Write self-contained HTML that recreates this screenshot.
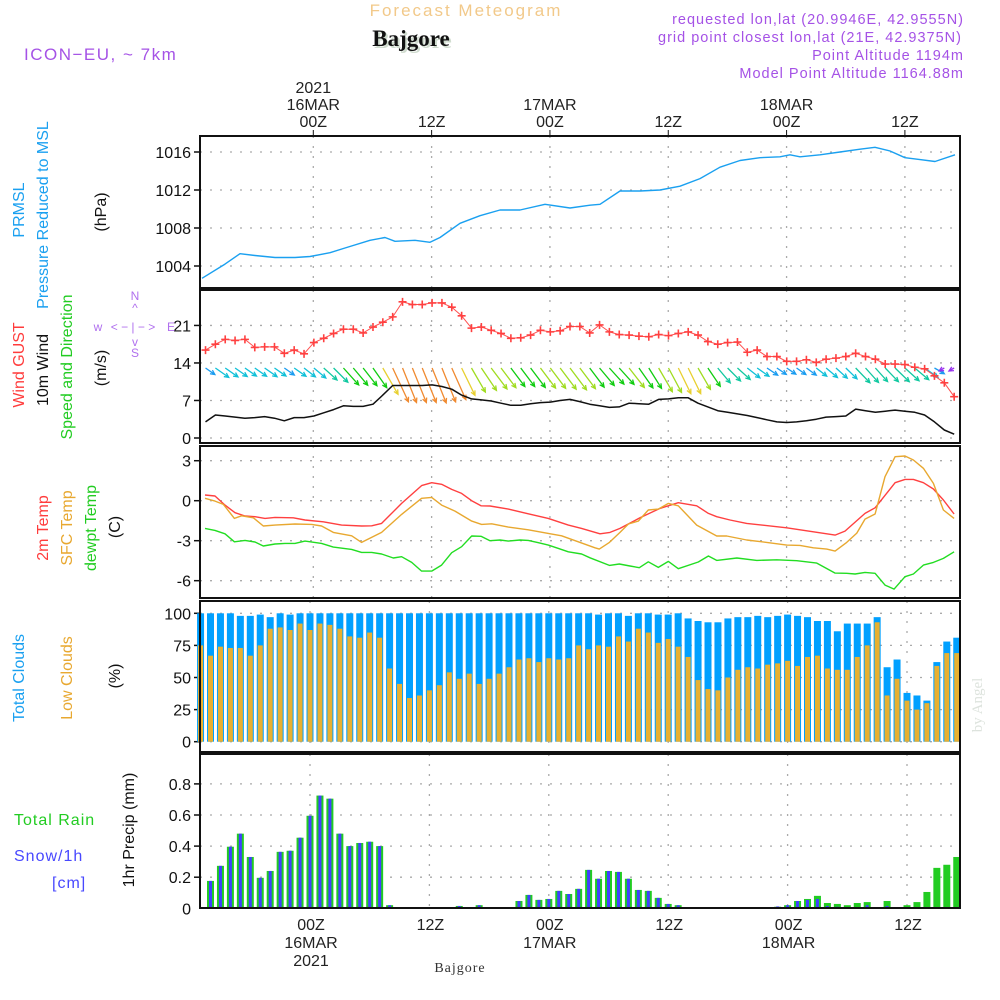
<!DOCTYPE html>
<html><head><meta charset="utf-8"><title>Meteogram Bajgore</title>
<style>
html,body{margin:0;padding:0;background:#fff;}
svg{display:block;font-family:"Liberation Sans",sans-serif;}
</style></head>
<body>
<svg id="chart" width="1000" height="1000" viewBox="0 0 1000 1000" xmlns="http://www.w3.org/2000/svg">
<rect x="0" y="0" width="1000" height="1000" fill="#fff"/>
<text x="466" y="16" text-anchor="middle" font-size="17" fill="#f2c98a" letter-spacing="2">Forecast Meteogram</text>
<text x="413" y="48" text-anchor="middle" font-size="23" font-weight="bold" font-family="Liberation Serif, serif" fill="#d0dccf">Bajgore</text>
<text x="411" y="46" text-anchor="middle" font-size="23" font-weight="bold" font-family="Liberation Serif, serif" fill="#111">Bajgore</text>
<g fill="#a552e6" font-size="14.5" text-anchor="end" letter-spacing="1">
<text x="964" y="24">requested lon,lat (20.9946E, 42.9555N)</text>
<text x="962" y="42">grid point closest lon,lat (21E, 42.9375N)</text>
<text x="964" y="60">Point Altitude 1194m</text>
<text x="964" y="78">Model Point Altitude 1164.88m</text>
</g>
<text x="24" y="60" font-size="17" fill="#a552e6" letter-spacing="1.5">ICON−EU, ~ 7km</text>

<g id="axes"></g>
<g id="marks"></g>

<g font-size="16">
<text transform="translate(24,210) rotate(-90)" text-anchor="middle" fill="#1aa0f0">PRMSL</text>
<text transform="translate(48,215) rotate(-90)" text-anchor="middle" fill="#1aa0f0">Pressure Reduced to MSL</text>
<text transform="translate(106,212) rotate(-90)" text-anchor="middle" fill="#111">(hPa)</text>
<text transform="translate(24,365) rotate(-90)" text-anchor="middle" fill="#ff3c3c">Wind GUST</text>
<text transform="translate(48,370) rotate(-90)" text-anchor="middle" fill="#111">10m Wind</text>
<text transform="translate(72,367) rotate(-90)" text-anchor="middle" fill="#22cc22">Speed and Direction</text>
<text transform="translate(106,368) rotate(-90)" text-anchor="middle" fill="#111">(m/s)</text>
<text transform="translate(48,528) rotate(-90)" text-anchor="middle" fill="#ff3c3c">2m Temp</text>
<text transform="translate(72,528) rotate(-90)" text-anchor="middle" fill="#e8a830">SFC Temp</text>
<text transform="translate(96,528) rotate(-90)" text-anchor="middle" fill="#22cc22">dewpt Temp</text>
<text transform="translate(120,527) rotate(-90)" text-anchor="middle" fill="#111">(C)</text>
<text transform="translate(24,678) rotate(-90)" text-anchor="middle" fill="#1aa0f0">Total Clouds</text>
<text transform="translate(72,678) rotate(-90)" text-anchor="middle" fill="#e8a830">Low Clouds</text>
<text transform="translate(120,676) rotate(-90)" text-anchor="middle" fill="#111">(%)</text>
<text transform="translate(134,830) rotate(-90)" text-anchor="middle" fill="#111">1hr Precip (mm)</text>
<text x="14" y="825" fill="#22cc22" letter-spacing="1">Total   Rain</text>
<text x="14" y="861" fill="#4848ff" letter-spacing="1">Snow/1h</text>
<text x="52" y="888" fill="#4848ff" letter-spacing="1">[cm]</text>
</g>
<g fill="#b070ee" font-size="12" text-anchor="middle">
<text x="135" y="300">N</text><text x="135" y="312">^</text>
<text x="98" y="331">w</text><text x="133" y="331">&lt; − | − &gt;</text><text x="171" y="331">E</text>
<text x="135" y="346">v</text><text x="135" y="357">S</text>
</g>
<text transform="translate(982,705) rotate(-90)" text-anchor="middle" font-size="15" font-family="Liberation Serif, serif" fill="#dde3dd">by Angel</text>
<text x="460" y="972" text-anchor="middle" font-size="14" font-family="Liberation Serif, serif" fill="#333" letter-spacing="1">Bajgore</text>
</svg>
<script>
const pressHours=[-10.85,-8.54,-7.04,-5.53,-3.52,-1.51,0,2.01,3.52,6.03,7.54,8.54,10.55,12.06,13.07,15.08,17.09,19.1,21.11,23.62,26.13,28.14,29.15,31.16,33.17,35.18,37.19,39.2,41.21,43.22,45.23,47.24,48.24,49.25,51.26,53.27,55.28,56.78,58.29,59.8,61.31,62.81,64.82];
const pressVals=[1002.7,1004.2,1005.3,1005.1,1004.9,1004.9,1005.0,1005.4,1005.9,1006.7,1007.0,1006.6,1006.7,1006.5,1007.0,1008.5,1009.3,1009.9,1009.9,1010.5,1010.1,1010.4,1010.5,1011.9,1011.9,1012.0,1012.4,1013.2,1014.4,1015.1,1015.4,1015.5,1015.7,1015.5,1015.7,1016.0,1016.3,1016.5,1016.1,1015.4,1015.2,1015.0,1015.7];
const windStartHour=-10.5;
const gustVals=[16.4,17.5,18.4,18.2,18.4,16.9,17.0,17.0,15.8,16.4,15.7,17.8,18.6,19.5,20.3,20.3,19.6,20.7,21.6,22.6,25.4,24.9,24.9,25.2,25.2,24.4,22.8,20.5,20.7,20.1,19.5,18.6,18.7,19.2,20.1,19.8,20.0,20.8,20.8,19.6,
21.1,19.8,19.3,19.2,19.0,18.9,19.3,19.1,19.5,19.8,19.2,18.0,17.5,17.8,17.9,16.0,16.4,15.2,15.2,14.3,14.3,14.6,14.1,14.7,14.9,15.2,15.8,15.2,14.7,13.8,13.8,13.7,13.2,12.9,11.6,10.3,7.7];
const windVals=[3.0,4.3,4.1,3.9,3.7,3.8,4.0,3.7,3.2,3.8,3.8,4.1,4.7,5.3,6.0,5.9,5.9,6.3,8.0,9.8,9.8,9.8,9.8,9.9,9.6,9.1,8.0,7.3,7.1,6.9,6.5,6.1,6.1,6.4,6.6,6.7,7.0,7.2,6.8,6.3,
6.0,5.7,5.8,6.5,6.4,6.3,7.2,7.3,7.5,7.5,6.5,5.8,5.1,4.8,4.5,4.2,3.8,3.4,3.0,2.9,3.0,3.2,3.5,3.9,4.0,4.1,5.4,5.1,4.8,5.0,5.2,5.0,4.8,4.3,3.0,1.5,0.7];
const windDirFrom=[305,305,305,305,305,305,305,305,305,305,308,310,312,315,318,320,322,325,330,335,338,338,338,338,338,336,334,330,326,323,323,323,323,323,323,323,323,323,323,323,
320,318,318,322,325,328,330,332,334,334,330,326,320,315,312,308,305,304,304,304,305,306,308,310,312,314,316,318,318,316,314,312,310,305,300,60,60];
const temp2mHours=[-10.55,-9.55,-8.54,-7.54,-6.53,-5.53,-4.52,-3.52,-1.68,-0.5,1.34,3.18,5.19,6.2,7.2,9.21,11.22,12.23,13.23,14.24,15.24,16.25,17.19,18.09,19.93,21.94,23.95,25.96,27.3,29.15,30.15,31.16,33.17,35.18,37.02,38.86,40.04,40.87,42.21,43.89,47.91,50.59,52.77,53.77,55.78,56.79,58.8,59.8,60.64,61.65,62.65,63.66,64.73];
const temp2mVals=[0.43,0.35,-0.33,-0.9,-1.15,-1.2,-1.33,-1.25,-1.28,-1.45,-1.58,-1.83,-1.9,-1.88,-1.7,-0.2,1.13,1.35,1.23,0.85,0.55,0,-0.38,-0.4,-0.63,-0.98,-1.33,-1.83,-2.08,-2.48,-2.38,-2.08,-1.28,-0.58,-0.15,-0.38,-0.95,-1.2,-1.45,-1.7,-2.03,-2.33,-2.58,-2.28,-0.95,-0.53,1.35,1.6,1.6,1.35,0.88,0.05,-1.0];
const sfcHours=[-10.55,-9.55,-8.7,-7.6,-6.87,-5.69,-4.69,-3.52,-1.51,0.17,1.17,2.34,4.19,5.19,7.2,9.21,11.22,12.23,13.23,14.57,16.25,17.25,18.26,19.93,21.94,23.95,25.29,28.64,29.08,30.09,31.16,32,33,34,35,36.02,37.02,38.86,40.87,41.88,43.89,45.9,47.91,49.25,50.59,51.93,52.77,53.94,54.95,55.78,56.79,57.79,58.8,59.8,60.64,61.65,62.65,63.66,64.73];
const sfcVals=[0.18,-0.03,-0.28,-1.33,-1.13,-1.28,-1.9,-1.83,-1.75,-1.78,-1.9,-2.38,-2.63,-3.13,-2.38,-1.03,0.18,0.25,-0.33,-0.78,-1.53,-1.78,-1.73,-1.98,-2.18,-2.45,-2.63,-3.53,-3.63,-3.13,-2.38,-1.75,-1.53,-0.7,-0.63,-0.2,-0.38,-1.83,-2.65,-2.65,-2.95,-3.13,-3.33,-3.35,-3.53,-3.63,-3.78,-3.13,-2.43,-1.38,-1.0,1.8,3.3,3.35,3.05,2.43,1.3,-0.7,-1.33];
const dewHours=[-10.55,-9.55,-8.54,-7.6,-6.53,-5.53,-4.69,-3.52,-2.51,-1.51,-0.5,1.17,2.34,4.19,5.19,6.2,7.2,8.37,9.21,10.22,11.22,12.23,13.23,14.24,15.24,16.25,17.19,18.09,19.1,19.93,21.1,21.94,22.95,23.95,24.96,25.96,27.3,28.14,30.09,31.09,32.16,33.1,34,35,36.02,37.02,39.03,40.04,40.87,42.9,44.9,46.9,48.92,50.93,52.77,53.94,54.78,55.78,56.79,57.79,58.7,59.8,60.64,61.65,62.65,63.66,64.73];
const dewVals=[-2.08,-2.23,-2.48,-3.08,-2.98,-3.1,-3.4,-3.25,-3.2,-3.2,-3.03,-3.2,-3.48,-3.65,-3.88,-3.88,-4.0,-4.3,-4.2,-4.63,-5.28,-5.28,-4.83,-3.9,-3.45,-2.65,-2.67,-3.0,-2.95,-3.03,-2.95,-2.98,-3.15,-3.33,-3.58,-3.83,-4.0,-4.28,-4.85,-4.75,-4.9,-5.03,-4.58,-5.0,-4.55,-5.1,-4.6,-4.15,-4.48,-4.3,-4.48,-4.43,-4.5,-4.68,-5.43,-5.45,-5.5,-5.38,-5.45,-6.33,-6.63,-5.7,-5.5,-4.83,-4.63,-4.33,-3.83];
const barStartHour=-11;
const totalClouds=[100,100,100,100,98,98,99,97,100,99,100,100,100,100,100,100,100,100,100,100,100,100,100,100,100,100,100,100,100,100,100,100,100,100,100,100,100,100,100,100,
99,100,100,98,100,100,99,99,100,96,94,93,93,96,97,97,98,97,98,99,98,97,94,94,86,92,92,92,97,58,64,38,36,32,62,78,81];
const lowClouds=[75,67,74,73,73,67,75,88,89,87,92,87,92,91,88,82,81,85,81,57,45,34,36,40,44,54,49,53,45,49,53,58,64,65,62,65,64,65,75,72,
75,74,82,78,88,85,77,80,74,66,48,41,40,50,56,58,57,60,61,63,59,66,67,57,56,56,66,75,93,36,49,32,25,30,59,69,69];
const precipTotal=[0,0.176,0.273,0.396,0.48,0.33,0.196,0.24,0.363,0.37,0.454,0.595,0.725,0.705,0.48,0.40,0.42,0.428,0.40,0.02,0,0,0,0,0,0,0.015,0.003,0.02,0,0,0.003,0.047,0.086,0.054,0.06,0.112,0.092,0.125,0.247,
0.19,0.24,0.234,0.19,0.118,0.112,0.067,0.028,0.02,0.008,0,0,0,0.002,0,0,0.008,0.008,0.01,0.02,0.047,0.06,0.08,0.034,0.028,0.02,0.034,0.04,0.008,0.047,0.008,0.02,0.04,0.105,0.26,0.28,0.33];
const precipSnow=[0,0.176,0.273,0.396,0.48,0.33,0.196,0.24,0.363,0.37,0.454,0.595,0.725,0.705,0.48,0.40,0.42,0.428,0.40,0.02,0,0,0,0,0,0,0.015,0.003,0.02,0,0,0.003,0.047,0.086,0.054,0.06,0.112,0.092,0.125,0.247,
0.19,0.24,0.234,0.19,0.118,0.112,0.067,0.028,0.02,0.008,0,0,0,0.002,0,0,0.003,0.003,0.012,0.02,0.047,0.054,0.06,0.015,0.01,0.005,0.008,0.02,0.008,0.015,0,0,0,0,0,0,0];
const pressTicks=[1004,1008,1012,1016];
const windTicks=[0,7,14,21];
const tempTicks=[-6,-3,0,3];
const cloudTicks=[0,25,50,75,100];
const precipTicks=[0.2,0.4,0.6,0.8];
const gridHours=[0,12,24,36,48,60];
const topLabels=[["2021","16MAR","00Z"],["","","12Z"],["","17MAR","00Z"],["","","12Z"],["","18MAR","00Z"],["","","12Z"]];
const bottomLabels=[["00Z","16MAR","2021"],["12Z","",""],["00Z","17MAR",""],["12Z","",""],["00Z","18MAR",""],["12Z","",""]];

const X0=200,X1=960;
const xData=h=>310+h*9.95;
const xGridTop=h=>313.3+h*9.86;
const xGridBot=h=>310+h*9.95;
const yP=v=>152+(1016-v)*9.5;
const yW=v=>438-v*5.36;
const yT=v=>500.7-v*13.33;
const yC=v=>741.7-v*1.284;
const yR=v=>908.3-v*155.5;
const panels=[{t:136,b:288,top:true},{t:290,b:443,top:true},{t:446,b:598,top:true},{t:601,b:752,top:false},{t:754,b:908,top:false}];

const NS="http://www.w3.org/2000/svg";
const axes=document.getElementById('axes'), marks=document.getElementById('marks');
function el(tag,attrs,parent){const e=document.createElementNS(NS,tag);for(const k in attrs)e.setAttribute(k,attrs[k]);parent.appendChild(e);return e;}

panels.forEach((p,i)=>{
  const gx=p.top?xGridTop:xGridBot;
  gridHours.forEach(h=>{
    const g=el('line',{x1:gx(h),x2:gx(h),y1:p.t,y2:p.b,stroke:'#aaa','stroke-width':1.3,'stroke-dasharray':'2,8'},axes);
    
    
  });
});
function yAxis(ticks,ys,fmt,p,name){
  ticks.forEach(v=>{
    const y=ys(v);
    const g=el('line',{x1:X0,x2:X1,y1:y,y2:y,stroke:'#aaa','stroke-width':1.3,'stroke-dasharray':'2,8'},axes);
    
    
    el('line',{x1:X0-6,x2:X0,y1:y,y2:y,stroke:'#111','stroke-width':1.5},axes);
    const t=el('text',{x:X0-9,y:y+6,'text-anchor':'end','font-size':16,fill:'#111'},axes);
    t.textContent=fmt(v);
    
    
  });
}
yAxis(pressTicks,yP,v=>v,panels[0],'pressure');
yAxis(windTicks,yW,v=>v,panels[1],'wind');
yAxis(tempTicks,yT,v=>v,panels[2],'temp');
yAxis(cloudTicks,yC,v=>v,panels[3],'cloud');
yAxis(precipTicks,yR,v=>v.toFixed(1),panels[4],'precip');
{const t=el('text',{x:X0-9,y:yR(0)+6,'text-anchor':'end','font-size':16,fill:'#111'},axes);t.textContent='0';

}

gridHours.forEach((h,i)=>{
  topLabels[i].forEach((s,j)=>{ if(!s)return;
    const t=el('text',{x:xGridTop(h),y:93+j*17,'text-anchor':'middle','font-size':16,fill:'#222'},axes);t.textContent=s;
    
    
  });
  el('line',{x1:xGridTop(h),x2:xGridTop(h),y1:130,y2:136,stroke:'#111'},axes);
  bottomLabels[i].forEach((s,j)=>{ if(!s)return;
    const t=el('text',{x:xGridBot(h)+1,y:930+j*18,'text-anchor':'middle','font-size':16,fill:'#222'},axes);t.textContent=s;
    
    
  });
});

totalClouds.forEach((v,i)=>{
  const x=xData(barStartHour+i);
  const b=el('rect',{x:x-3.5,y:yC(v),width:7,height:yC(0)-yC(v),fill:'#00a0ff'},marks);
  
  
  const l=el('rect',{x:x-2.5,y:yC(lowClouds[i]),width:5,height:yC(0)-yC(lowClouds[i]),fill:'#e8b030'},marks);
  
  
});
precipTotal.forEach((v,i)=>{
  const x=xData(barStartHour+i);
  if(v>0){const b=el('rect',{x:x-3.5,y:yR(v),width:7,height:yR(0)-yR(v),fill:'#22cc22'},marks);
  
  }
  const s=precipSnow[i];
  if(s>0){const b2=el('rect',{x:x-1.5,y:yR(s),width:3,height:yR(0)-yR(s),fill:'#4040ff'},marks);
  
  }
});

function line(hours,vals,ys,color,name,w){
  const pts=hours.map((h,i)=>xData(h).toFixed(1)+','+ys(vals[i]).toFixed(1)).join(' ');
  const p=el('polyline',{points:pts,fill:'none',stroke:color,'stroke-width':w||1.4,'stroke-linejoin':'round'},marks);
  
  
}
line(pressHours,pressVals,yP,'#1aa0f0','pressure-line');
const windHours=windVals.map((_,i)=>windStartHour+i*0.99);
function wcol(s){return s<2?'#9933ee':s<3.5?'#1a9cf0':s<4.5?'#10c0d8':s<5.5?'#10c8a0':s<6.5?'#10cc10':s<7.4?'#a0dc20':s<8.5?'#e8d030':'#f08a30';}
windVals.forEach((s,i)=>{
  const x=xData(windHours[i]),y=368;
  const to=(windDirFrom[i]+180)*Math.PI/180;
  const L=Math.max(s*3.8,6);
  const dx=Math.sin(to)*L, dy=-Math.cos(to)*L;
  const x2=x+dx,y2=y+dy, a=Math.atan2(dy,dx);
  const c=wcol(s);
  const h1x=x2-5*Math.cos(a-0.45),h1y=y2-5*Math.sin(a-0.45),h2x=x2-5*Math.cos(a+0.45),h2y=y2-5*Math.sin(a+0.45);
  const ar=el('path',{d:`M${x},${y}L${x2},${y2}M${h1x},${h1y}L${x2},${y2}L${h2x},${h2y}`,stroke:c,'stroke-width':1.3,fill:'none'},marks);
  
  
});
line(windHours,windVals,yW,'#111','wind-speed-line',1.5);
line(windHours,gustVals,yW,'#ff5050','wind-gust-line',1);
gustVals.forEach((v,i)=>{
  const x=xData(windHours[i]),y=yW(v);
  const m=el('path',{d:`M${x-4},${y}H${x+4}M${x},${y-4}V${y+4}`,stroke:'#ff4040','stroke-width':1.6},marks);
  
  
});
line(temp2mHours,temp2mVals,yT,'#ff4040','temp-2m-line');
line(sfcHours,sfcVals,yT,'#e8a830','sfc-temp-line');
line(dewHours,dewVals,yT,'#22dd22','dewpoint-line');

panels.forEach((p,i)=>{
  const r=el('rect',{x:X0,y:p.t,width:X1-X0,height:p.b-p.t,fill:'none',stroke:'#111','stroke-width':2},axes.parentNode);
  
  
});
</script>
</body></html>
